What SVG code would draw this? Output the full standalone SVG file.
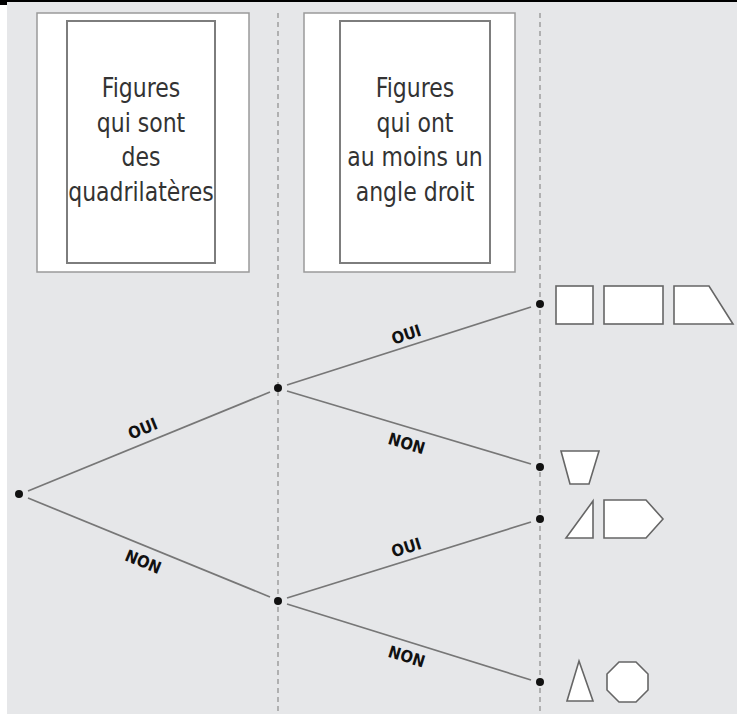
<svg xmlns="http://www.w3.org/2000/svg" width="737" height="715" viewBox="0 0 737 715">
<style>
.bg{fill:#e6e7e9}
.outer{fill:#ffffff;stroke:#9a9a9a;stroke-width:1.5}
.inner{fill:#ffffff;stroke:#7d7d7d;stroke-width:2}
.title{font-family:"DejaVu Sans Condensed","DejaVu Sans","Open Sans",sans-serif;font-stretch:condensed;font-size:26px;fill:#333333;text-anchor:middle}
.guide{stroke:#8c8c8c;stroke-width:1.2;stroke-dasharray:5,4;fill:none}
.edge{stroke:#777777;stroke-width:1.7;fill:none}
.dot{fill:#111111}
.lbl{font-family:"DejaVu Sans Condensed","DejaVu Sans","Open Sans",sans-serif;font-stretch:condensed;font-weight:bold;font-size:16.5px;fill:#111111;text-anchor:middle}
.shape{fill:#ffffff;stroke:#666666;stroke-width:1.6;stroke-linejoin:miter}
</style>
<rect x="0" y="0" width="737" height="715" fill="#ffffff"/>
<rect class="bg" x="7" y="2" width="730" height="712"/>
<rect x="0" y="0" width="737" height="2" fill="#000000"/>
<rect x="0" y="0" width="7" height="5" fill="#000000"/>

<g id="header1">
<rect class="outer" x="37" y="13" width="212" height="259"/>
<rect class="inner" x="67" y="21" width="148" height="242"/>
<g transform="translate(141,0) scale(0.94,1) translate(-141,0)">
<text class="title" x="141" y="97">Figures</text>
<text class="title" x="141" y="132">qui sont</text>
<text class="title" x="141" y="166">des</text>
<text class="title" x="141" y="201">quadrilatères</text>
</g>
</g>
<g id="header2">
<rect class="outer" x="304" y="13" width="211" height="259"/>
<rect class="inner" x="340" y="21" width="150" height="242"/>
<g transform="translate(415,0) scale(0.94,1) translate(-415,0)">
<text class="title" x="415" y="97">Figures</text>
<text class="title" x="415" y="132">qui ont</text>
<text class="title" x="415" y="166">au moins un</text>
<text class="title" x="415" y="201">angle droit</text>
</g>
</g>

<g id="guides">
<line class="guide" x1="278" y1="13" x2="278" y2="712"/>
<line class="guide" x1="540" y1="13" x2="540" y2="712"/>
</g>

<g id="connectors">
<line class="edge" x1="28" y1="491" x2="270" y2="392"/>
<line class="edge" x1="28" y1="498" x2="270" y2="597"/>
<line class="edge" x1="287" y1="385" x2="531" y2="307"/>
<line class="edge" x1="287" y1="391" x2="531" y2="464"/>
<line class="edge" x1="287" y1="598" x2="531" y2="522"/>
<line class="edge" x1="287" y1="604" x2="531" y2="680"/>
<text class="lbl" transform="translate(145,434) rotate(-22.3)">OUI</text>
<text class="lbl" transform="translate(141,567) rotate(22.3)">NON</text>
<text class="lbl" transform="translate(408,340) rotate(-17.9)">OUI</text>
<text class="lbl" transform="translate(405,449) rotate(16.8)">NON</text>
<text class="lbl" transform="translate(408,553) rotate(-17.3)">OUI</text>
<text class="lbl" transform="translate(405,662) rotate(17.3)">NON</text>
</g>

<g id="node-root"><circle class="dot" cx="19" cy="494" r="4"/></g>
<g id="node-quad"><circle class="dot" cx="278" cy="388" r="4"/></g>
<g id="node-nonquad"><circle class="dot" cx="278" cy="601" r="4"/></g>

<g id="leaf-1">
<circle class="dot" cx="540" cy="304" r="4"/>
<rect class="shape" x="556" y="286" width="37" height="38"/>
<rect class="shape" x="604" y="286" width="59" height="38"/>
<polygon class="shape" points="674,286 709,286 733,324 674,324"/>
</g>
<g id="leaf-2">
<circle class="dot" cx="540" cy="467" r="4"/>
<polygon class="shape" points="561,451 599,451 589,484 570,484"/>
</g>
<g id="leaf-3">
<circle class="dot" cx="540" cy="519" r="4"/>
<polygon class="shape" points="566,538 593,501 593,538"/>
<polygon class="shape" points="604,500 646,500 663,519 646,538 604,538"/>
</g>
<g id="leaf-4">
<circle class="dot" cx="540" cy="682" r="4"/>
<polygon class="shape" points="579,661 593,701 567,701"/>
<polygon class="shape" points="619,662 636,662 648,674 648,690 636,702 619,702 607,690 607,674"/>
</g>
</svg>
